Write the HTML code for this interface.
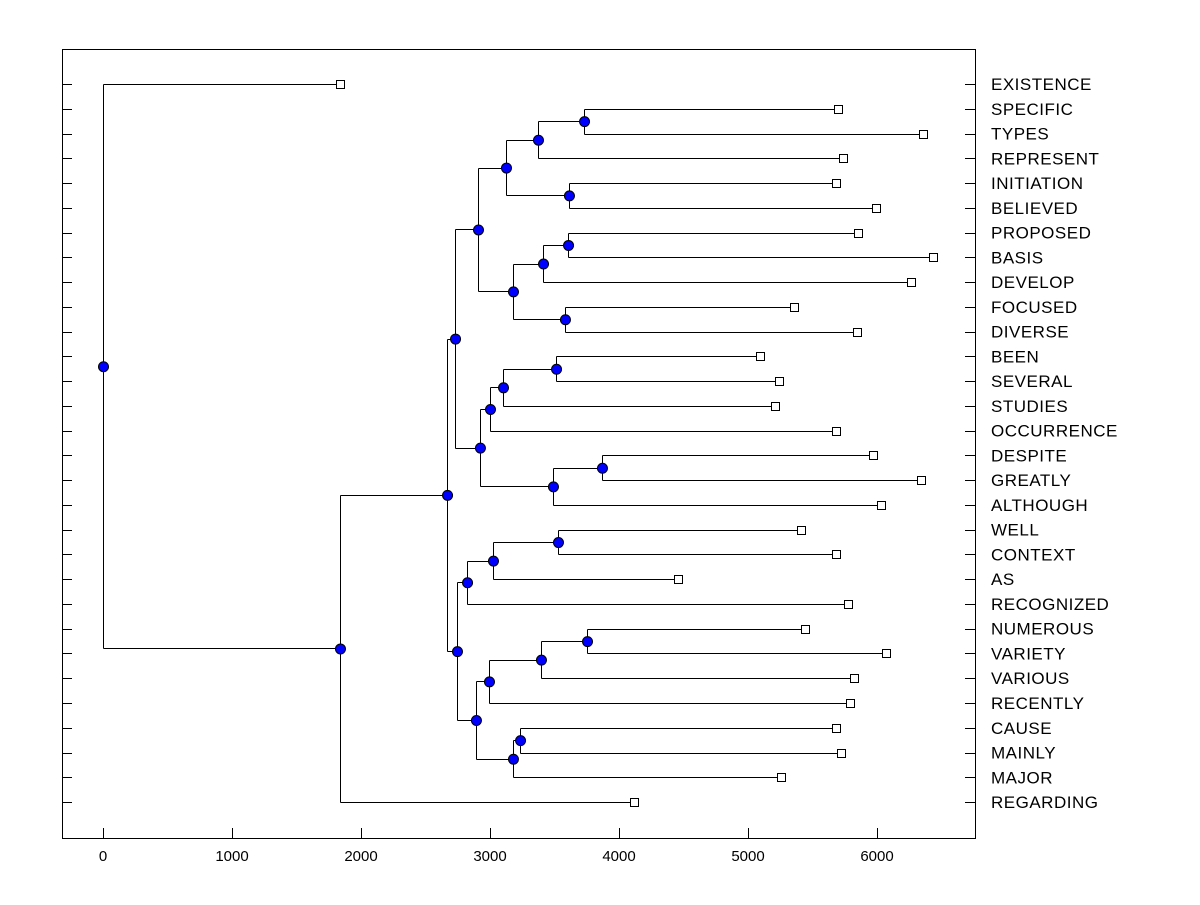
<!DOCTYPE html>
<html><head><meta charset="utf-8"><style>
html,body{margin:0;padding:0;background:#fff;}
svg text{font-family:"Liberation Sans",Arial,sans-serif;fill:#000;}
</style></head><body>
<svg id="chart" width="1200" height="900" xmlns="http://www.w3.org/2000/svg"></svg>
<script>
// leaves (top to bottom) and their leaf heights
const leafNames = ["EXISTENCE","SPECIFIC","TYPES","REPRESENT","INITIATION","BELIEVED","PROPOSED","BASIS","DEVELOP","FOCUSED","DIVERSE","BEEN","SEVERAL","STUDIES","OCCURRENCE","DESPITE","GREATLY","ALTHOUGH","WELL","CONTEXT","AS","RECOGNIZED","NUMEROUS","VARIETY","VARIOUS","RECENTLY","CAUSE","MAINLY","MAJOR","REGARDING"];
const leafValues = [1837,5698,6357,5736,5682,5992,5853,6434,6264,5357,5845,5093,5240,5209,5682,5969,6341,6031,5411,5682,4457,5775,5442,6070,5822,5791,5682,5721,5256,4116];
// internal nodes: id, children, merge height
const nodeIds = ["K","I","J","G","N","L","M","H","E","R","Q","O","S","P","F","C","W","V","T","AA","Z","X","AB","Y","U","D","B","A","root"];
const nodeChildren = [["SPECIFIC","TYPES"],["K","REPRESENT"],["INITIATION","BELIEVED"],["I","J"],["PROPOSED","BASIS"],["N","DEVELOP"],["FOCUSED","DIVERSE"],["L","M"],["G","H"],["BEEN","SEVERAL"],["R","STUDIES"],["Q","OCCURRENCE"],["DESPITE","GREATLY"],["S","ALTHOUGH"],["O","P"],["E","F"],["WELL","CONTEXT"],["W","AS"],["V","RECOGNIZED"],["NUMEROUS","VARIETY"],["AA","VARIOUS"],["Z","RECENTLY"],["CAUSE","MAINLY"],["AB","MAJOR"],["X","Y"],["T","U"],["C","D"],["B","REGARDING"],["EXISTENCE","A"]];
const nodeValues = [3729,3372,3612,3124,3605,3411,3581,3178,2907,3512,3101,3000,3868,3488,2922,2729,3527,3023,2822,3752,3395,2992,3233,3178,2891,2744,2667,1837,0];
const xTicks = [0,1000,2000,3000,4000,5000,6000];

const svg = document.getElementById('chart');
const NS = 'http://www.w3.org/2000/svg';
const L=62,R=975,T=49,B=838;
const xs = v => 103 + v*0.129;
const ys = i => 84 + i*24.76;
function mk(tag, attrs, parent){const e=document.createElementNS(NS,tag);for(const k in attrs)e.setAttribute(k,attrs[k]);(parent||svg).appendChild(e);return e;}

const frame = mk('rect',{x:L+0.5,y:T+0.5,width:R-L,height:B-T,fill:'none',stroke:'#000','stroke-width':1});



leafNames.forEach((n,i)=>{
  const y=Math.round(ys(i))+0.5;
  const t1=mk('line',{x1:L,x2:L+10,y1:y,y2:y,stroke:'#000'});
  
  
  const t2=mk('line',{x1:R-10,x2:R,y1:y,y2:y,stroke:'#000'});
  
  
  const tx=mk('text',{x:991,y:ys(i)+6,'font-size':17,'letter-spacing':'0.5'});
  tx.textContent=n;
  
  
});
xTicks.forEach(v=>{
  const x=Math.round(xs(v))+0.5;
  const t=mk('line',{x1:x,x2:x,y1:B-10,y2:B,stroke:'#000'});
  
  
  const tx=mk('text',{x:xs(v),y:861,'font-size':15,'text-anchor':'middle'});
  tx.textContent=v;
  
  
});

const pos={};
leafNames.forEach((n,i)=>{pos[n]={v:leafValues[i],y:ys(i),leaf:true};});
nodeIds.forEach((id,k)=>{
  const [a,b]=nodeChildren[k];
  pos[id]={v:nodeValues[k],y:(pos[a].y+pos[b].y)/2,leaf:false,kids:[a,b]};
});
const g=mk('g',{});


const marks=[];
nodeIds.forEach((id)=>{
  const p=pos[id];const x=Math.round(xs(p.v))+0.5;
  const [a,b]=p.kids;
  const v=mk('line',{x1:x,x2:x,y1:Math.round(pos[a].y)+0.5,y2:Math.round(pos[b].y)+0.5,stroke:'#000'},g);
  
  
  [a,b].forEach(c=>{
    const cy=Math.round(pos[c].y)+0.5;
    const h=mk('line',{x1:x,x2:Math.round(xs(pos[c].v))+0.5,y1:cy,y2:cy,stroke:'#000'},g);
    
    
  });
  marks.push(id);
});
leafNames.forEach(n=>{
  const p=pos[n];
  const s=mk('rect',{x:Math.round(xs(p.v))-3.5,y:Math.round(p.y)-3.5,width:8,height:8,fill:'#fff',stroke:'#000'});
  
  
});
marks.forEach(id=>{
  const p=pos[id];
  const c=mk('circle',{cx:xs(p.v)+0.5,cy:p.y+0.5,r:5,fill:'#0000ff',stroke:'#000','stroke-width':1});
  
  
});
</script>
</body></html>
